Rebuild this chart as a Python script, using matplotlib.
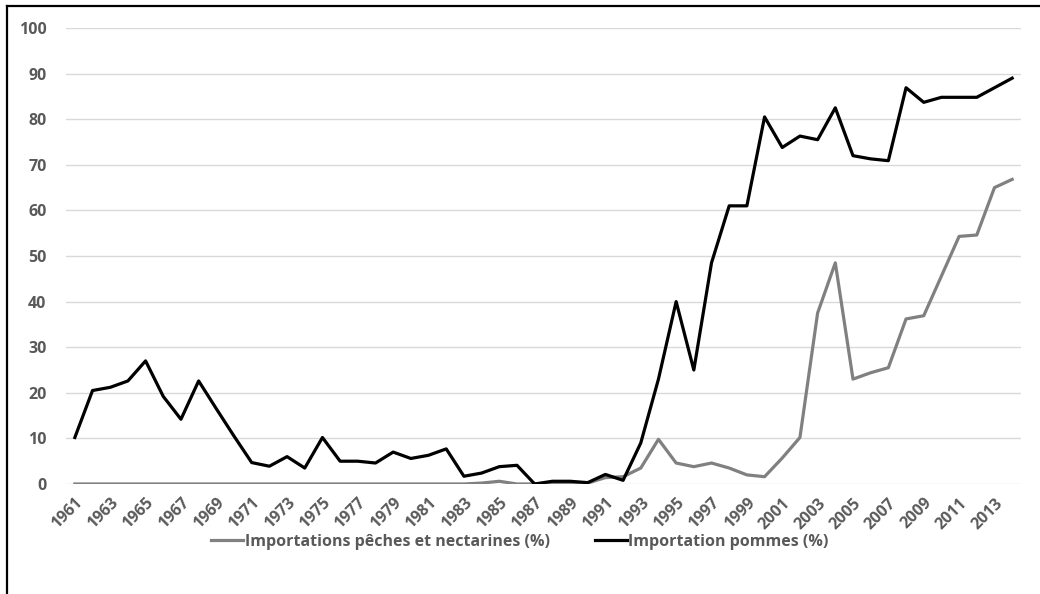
import matplotlib.pyplot as plt
from matplotlib.lines import Line2D

# Années 1961-2014
years = list(range(1961, 2015))

# Importations pêches et nectarines (%)
peches = [0, 0, 0, 0, 0, 0, 0, 0, 0, 0,
          0, 0, 0, 0, 0, 0, 0, 0, 0, 0,
          0, 0, 0, 0.2, 0.6, 0, 0, 0.3, 0.3, 0.2,
          1.4, 1.6, 3.5, 9.8, 4.6, 3.8, 4.6, 3.5, 2.0, 1.6,
          5.7, 10.2, 37.5, 48.5, 23.0, 24.4, 25.5, 36.2, 36.9, 45.6,
          54.3, 54.6, 65.0, 66.8]

# Importation pommes (%)
pommes = [10.2, 20.5, 21.2, 22.6, 27.0, 19.2, 14.2, 22.6, 16.5, 10.5,
          4.7, 3.9, 6.0, 3.5, 10.2, 5.0, 5.0, 4.6, 7.0, 5.6,
          6.3, 7.7, 1.7, 2.4, 3.8, 4.1, 0, 0.6, 0.6, 0.3,
          2.1, 0.8, 9.0, 23.0, 40.0, 25.0, 48.5, 61.0, 61.0, 80.5,
          73.8, 76.3, 75.5, 82.5, 72.0, 71.3, 70.9, 86.9, 83.7, 84.8,
          84.8, 84.8, 86.9, 89.0]

label_peches = 'Importations pêches et nectarines (%)'
label_pommes = 'Importation pommes (%)'
yticks = list(range(0, 101, 10))
xtick_years = years[::2]

txt_color = '#595959'
plt.rcParams['font.family'] = ['Open Sans', 'DejaVu Sans']

fig = plt.figure(figsize=(10.4, 5.94), dpi=100)
ax = fig.add_axes([66 / 1040, 1 - 484 / 594, (1021 - 66) / 1040, (484 - 28) / 594])

# Cadre (bords gauche et haut visibles)
fig.add_artist(Line2D([6.5 / 1040, 6.5 / 1040], [0, 1 - 6 / 594], color='black', lw=1.6))
fig.add_artist(Line2D([6.5 / 1040, 1], [1 - 6 / 594, 1 - 6 / 594], color='black', lw=1.6))

ax.plot(years, peches, color='#808080', lw=2.3, label=label_peches, solid_joinstyle='round', zorder=3)
ax.plot(years, pommes, color='black', lw=2.3, label=label_pommes, solid_joinstyle='round', zorder=4)

ax.set_xlim(1960.5, 2014.5)
ax.set_ylim(0, 100)
ax.set_yticks(yticks)
ax.set_xticks(xtick_years)
ax.set_xticklabels([str(y) for y in xtick_years], rotation=45, ha='right',
                   rotation_mode='anchor', fontsize=11.5, fontweight='bold', color=txt_color)
ax.set_yticklabels([str(v) for v in yticks], fontsize=11.5, fontweight='bold', color=txt_color)
ax.tick_params(axis='both', length=0)
ax.tick_params(axis='y', pad=14)
ax.tick_params(axis='x', pad=8)
ax.grid(axis='y', color='#d9d9d9', lw=1)
ax.set_axisbelow(True)
for s in ax.spines.values():
    s.set_visible(False)

fig.legend(loc='center', bbox_to_anchor=(0.5, 1 - 542 / 594), ncol=2, frameon=False,
           handlelength=2.0, columnspacing=2.8, handletextpad=0.1,
           prop={'size': 11.5, 'weight': 'bold'}, labelcolor=txt_color)

fig.savefig('out.png', dpi=100, facecolor='white')
